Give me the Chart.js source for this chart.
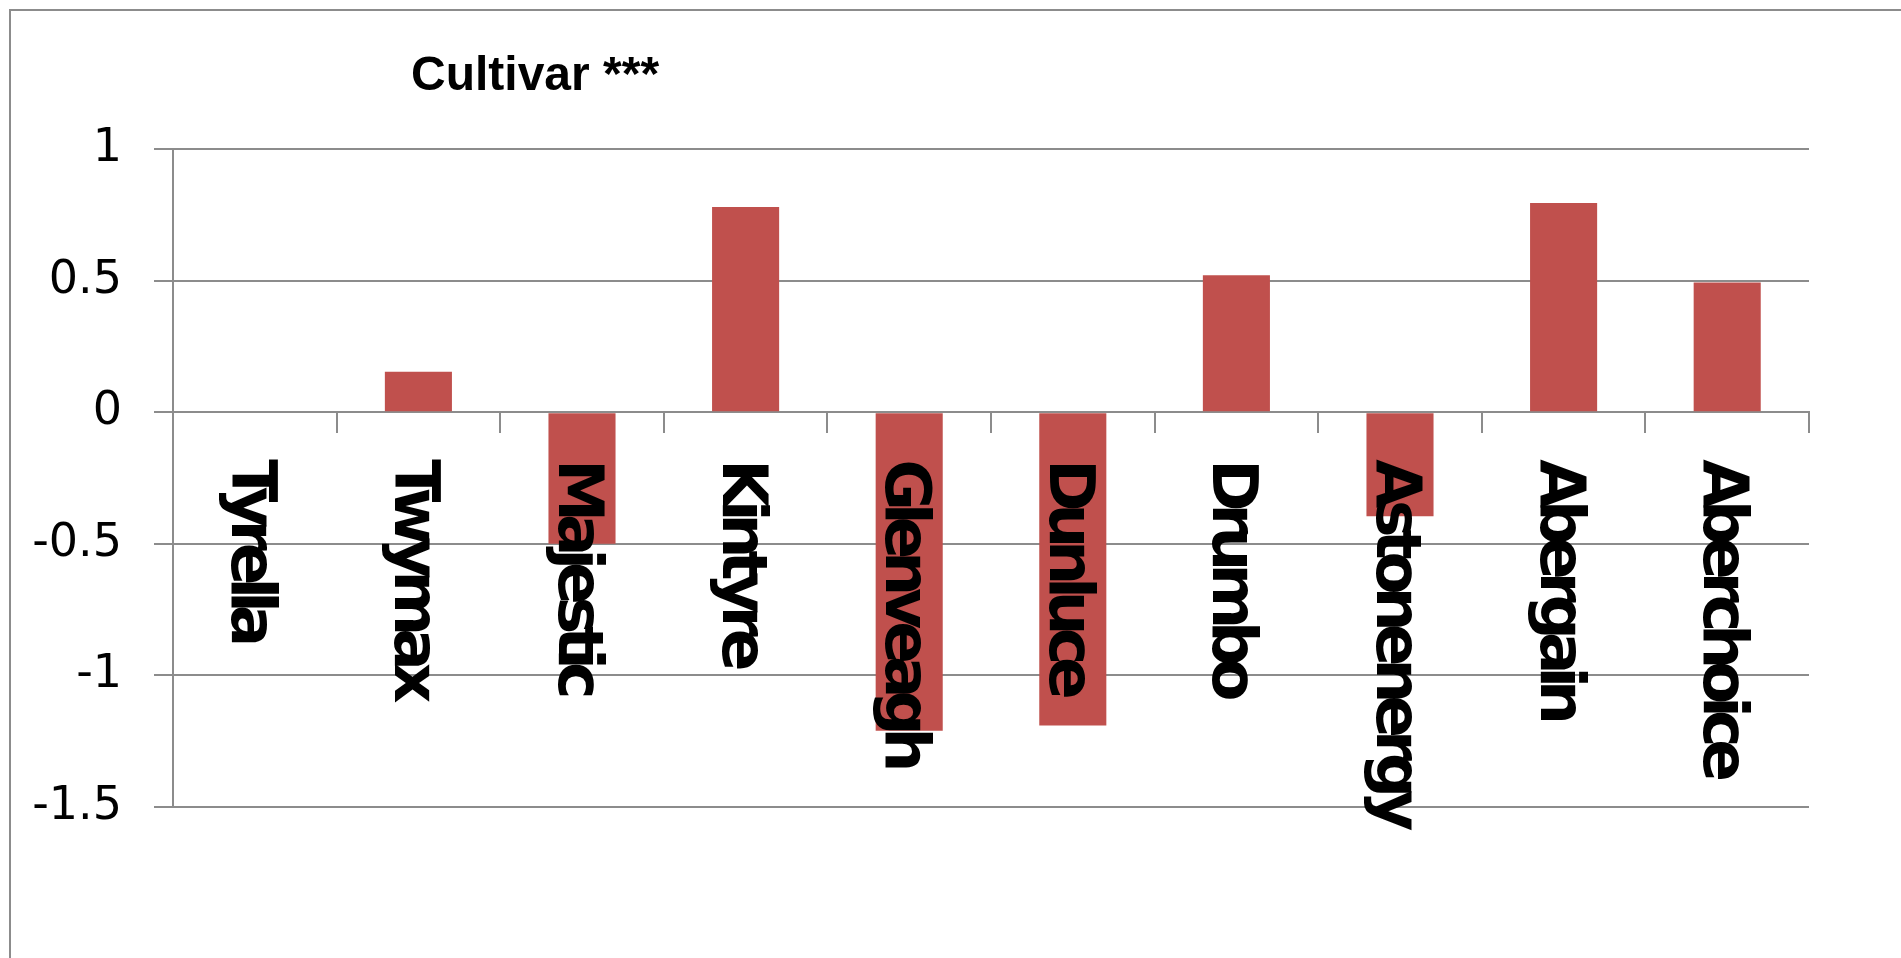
<!DOCTYPE html>
<html lang="en">
<head>
<meta charset="UTF-8">
<title>Cultivar</title>
<script src="https://cdn.jsdelivr.net/npm/chart.js"></script>
<style>
  html, body {
    margin: 0;
    padding: 0;
    background: #ffffff;
    overflow: hidden;
  }
  .wrap {
    position: relative;
    width: 1901px;
    height: 958px;
  }
  /* outer chart border, runs off the right and bottom edges */
  .frame {
    position: absolute;
    left: 9px;
    top: 9px;
    width: 2000px;
    height: 1000px;
    border: 2px solid #8c8c8c;
    box-sizing: border-box;
    pointer-events: none;
  }
  canvas {
    position: absolute;
    left: 0;
    top: 0;
  }
</style>
</head>
<body>
<div class="wrap">
  <canvas id="chart"></canvas>
  <div class="frame"></div>
</div>

<script>
  // effect per cultivar
  const cultivars = ['Tyrella', 'Twymax', 'Majestic', 'Kintyre', 'Glenveagh', 'Dunluce', 'Drumbo', 'Astonenergy', 'Abergain', 'Aberchoice'];
  const effect = [0, 0.154, -0.5, 0.78, -1.21, -1.19, 0.52, -0.395, 0.795, 0.493];
  const yTicks = [-1.5, -1, -0.5, 0, 0.5, 1];
  const yTickLabels = ['-1.5', '-1', '-0.5', '0', '0.5', '1'];
  const titleText = 'Cultivar ***';

  const gridColor = '#8c8c8c';

  // category names drawn top-to-bottom under the zero line, plus the title
  const labelPlugin = {
    id: 'cultivarLabels',
    afterDraw(chart) {
      const ctx = chart.ctx;
      const xs = chart.scales.x;
      const ys = chart.scales.y;
      const top = ys.getPixelForValue(0) + 47;

      ctx.save();
      ctx.fillStyle = '#000000';
      ctx.font = 'bold 63px "DejaVu Sans"';
      ctx.letterSpacing = '-8px';
      ctx.textAlign = 'left';
      ctx.textBaseline = 'alphabetic';
      cultivars.forEach((name, i) => {
        ctx.save();
        ctx.translate(xs.getPixelForValue(i), top);
        ctx.rotate(Math.PI / 2);
        ctx.fillText(name, 0, 23);
        ctx.restore();
      });

      ctx.letterSpacing = '0px';
      ctx.font = 'bold 48px "Liberation Sans"';
      ctx.fillText(titleText, 411, 90);
      ctx.restore();
    }
  };

  new Chart(document.getElementById('chart'), {
    type: 'bar',
    data: {
      labels: cultivars,
      datasets: [{
        data: effect,
        backgroundColor: '#c0504d',
        borderWidth: 0,
        barPercentage: 0.41,
        categoryPercentage: 1
      }]
    },
    options: {
      responsive: true,
      maintainAspectRatio: false,
      animation: false,
      layout: {
        padding: { top: 149, right: 92, bottom: 151, left: 0 }
      },
      plugins: {
        legend: { display: false },
        title: { display: false },
        tooltip: { enabled: false }
      },
      scales: {
        x: {
          position: { y: 0 },
          grid: {
            offset: true,
            drawOnChartArea: false,
            drawTicks: true,
            tickLength: 20,
            color: gridColor,
            lineWidth: 2
          },
          border: { display: true, color: gridColor, width: 2 },
          ticks: { display: false }
        },
        y: {
          min: -1.5,
          max: 1,
          afterBuildTicks: scale => {
            scale.ticks = yTicks.map(v => ({ value: v }));
          },
          afterFit: scale => {
            scale.width = 173;
          },
          grid: {
            color: gridColor,
            lineWidth: 2,
            tickLength: 19
          },
          border: { color: gridColor, width: 2 },
          ticks: {
            color: '#000000',
            padding: 32,
            font: { family: 'DejaVu Sans', size: 46 },
            callback: (value, i) => yTickLabels[i]
          }
        }
      }
    },
    plugins: [labelPlugin]
  });
</script>
</body>
</html>
